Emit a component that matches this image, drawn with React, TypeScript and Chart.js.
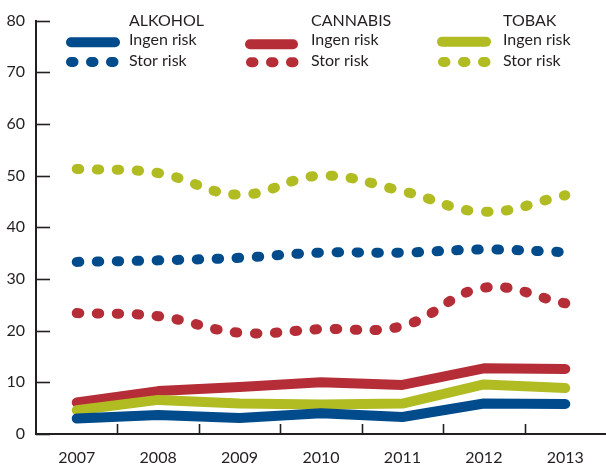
import React, { useEffect, useRef } from 'react';
import { Chart, registerables } from 'chart.js';

Chart.register(...registerables);

const years = ['2007', '2008', '2009', '2010', '2011', '2012', '2013'];

const alkoholIngen = [3.0, 3.7, 3.1, 4.0, 3.3, 5.9, 5.8];
const cannabisIngen = [6.1, 8.3, 9.1, 10.0, 9.5, 12.7, 12.6];
const tobakIngen = [4.6, 6.6, 5.9, 5.7, 5.9, 9.6, 8.9];

const alkoholStor = [33.3, 33.6, 34.1, 35.1, 35.1, 35.7, 35.2];
const cannabisStor = [23.4, 22.8, 19.6, 20.3, 20.9, 28.3, 25.3];
const tobakStor = [51.3, 50.5, 46.3, 50.0, 47.0, 43.0, 46.2];

const groupNames = ['ALKOHOL', 'CANNABIS', 'TOBAK'];
const riskNames = ['Ingen risk', 'Stor risk'];

const yMin = 0;
const yMax = 80;
const yStep = 10;

const BLUE = '#004b8c';
const RED = '#b52e37';
const GREEN = '#b0bc22';
const INK = '#231f20';
const FONT = 'Lato, "Open Sans", sans-serif';

const legendLayout = [
  { color: BLUE, textX: 129, solid: [71, 115, 42.3], dots: [71, 62] },
  { color: RED, textX: 311, solid: [250, 293, 44.3], dots: [251, 62.3] },
  { color: GREEN, textX: 503, solid: [442, 486, 41.7], dots: [443, 62] },
];

const legendPlugin = {
  id: 'customLegend',
  afterDraw(chart: any) {
    const ctx = chart.ctx;
    ctx.save();
    legendLayout.forEach((g, i) => {
      ctx.strokeStyle = g.color;
      ctx.lineCap = 'round';
      ctx.lineWidth = 10;
      ctx.setLineDash([]);
      ctx.beginPath();
      ctx.moveTo(g.solid[0], g.solid[2]);
      ctx.lineTo(g.solid[1], g.solid[2]);
      ctx.stroke();
      ctx.setLineDash([2.5, 17.5]);
      ctx.beginPath();
      ctx.moveTo(g.dots[0], g.dots[1]);
      ctx.lineTo(g.dots[0] + 43, g.dots[1]);
      ctx.stroke();
      ctx.setLineDash([]);
      ctx.fillStyle = INK;
      ctx.font = '16px ' + FONT;
      ctx.textAlign = 'left';
      ctx.textBaseline = 'alphabetic';
      ctx.fillText(groupNames[i], g.textX, 25.5);
      ctx.fillText(riskNames[0], g.textX, 45);
      ctx.fillText(riskNames[1], g.textX, 66);
    });
    ctx.restore();
  },
};

const innerTicksPlugin = {
  id: 'innerTicks',
  beforeDatasetsDraw(chart: any) {
    const ctx = chart.ctx;
    const xs = chart.scales.x;
    const ys = chart.scales.y;
    const area = chart.chartArea;
    ctx.save();
    ctx.strokeStyle = INK;
    ctx.lineWidth = 1.6;
    ys.ticks.forEach((t: any) => {
      const y = Math.round(ys.getPixelForValue(t.value)) + 0.5;
      ctx.beginPath();
      ctx.moveTo(area.left, y);
      ctx.lineTo(area.left + 14, y);
      ctx.stroke();
    });
    for (let i = 0; i < years.length - 1; i++) {
      const x = Math.round((xs.getPixelForValue(i) + xs.getPixelForValue(i + 1)) / 2) + 0.5;
      ctx.beginPath();
      ctx.moveTo(x, area.bottom);
      ctx.lineTo(x, area.bottom - 10);
      ctx.stroke();
    }
    ctx.restore();
  },
};

function solid(label: string, data: number[], color: string, order: number) {
  return {
    label,
    data,
    borderColor: color,
    backgroundColor: color,
    borderWidth: 10,
    borderCapStyle: 'round',
    borderJoinStyle: 'round',
    tension: 0,
    pointRadius: 0,
    fill: false,
    order,
  };
}

function dotted(label: string, data: number[], color: string, order: number) {
  return {
    label,
    data,
    borderColor: color,
    backgroundColor: color,
    borderWidth: 10,
    borderCapStyle: 'round',
    borderJoinStyle: 'round',
    borderDash: [2.5, 17.5],
    tension: 0.4,
    pointRadius: 0,
    fill: false,
    order,
  };
}

export default function App() {
  const ref = useRef<HTMLCanvasElement | null>(null);

  useEffect(() => {
    if (!ref.current) return;
    const chart = new Chart(ref.current, {
      type: 'line',
      data: {
        labels: years,
        datasets: [
          solid('Alkohol – Ingen risk', alkoholIngen, BLUE, 1),
          solid('Tobak – Ingen risk', tobakIngen, GREEN, 2),
          solid('Cannabis – Ingen risk', cannabisIngen, RED, 3),
          dotted('Alkohol – Stor risk', alkoholStor, BLUE, 4),
          dotted('Cannabis – Stor risk', cannabisStor, RED, 5),
          dotted('Tobak – Stor risk', tobakStor, GREEN, 6),
        ] as any,
      },
      options: {
        animation: false,
        responsive: false,
        maintainAspectRatio: false,
        layout: { padding: { top: 20, left: 0, right: 0, bottom: 0 } },
        plugins: {
          legend: { display: false },
          tooltip: { enabled: false },
        },
        scales: {
          x: {
            type: 'category',
            offset: true,
            grid: { display: false, drawTicks: false },
            border: { display: true, color: INK, width: 2 },
            ticks: {
              color: INK,
              font: { family: FONT, size: 16 },
              padding: 14,
              maxRotation: 0,
              autoSkip: false,
            },
            afterFit: (scale: any) => {
              scale.height = 31;
            },
          },
          y: {
            min: yMin,
            max: yMax,
            grid: { display: false, drawTicks: false },
            border: { display: true, color: INK, width: 2 },
            ticks: {
              stepSize: yStep,
              color: INK,
              font: { family: FONT, size: 16 },
              padding: 11,
            },
            afterFit: (scale: any) => {
              scale.width = 36;
            },
          },
        },
      },
      plugins: [innerTicksPlugin, legendPlugin],
    });
    return () => chart.destroy();
  }, []);

  return (
    <div style={{ position: 'fixed', left: 0, top: 0, width: 606, height: 465, background: '#fff' }}>
      <canvas ref={ref} width={606} height={465} style={{ display: 'block' }} />
    </div>
  );
}
